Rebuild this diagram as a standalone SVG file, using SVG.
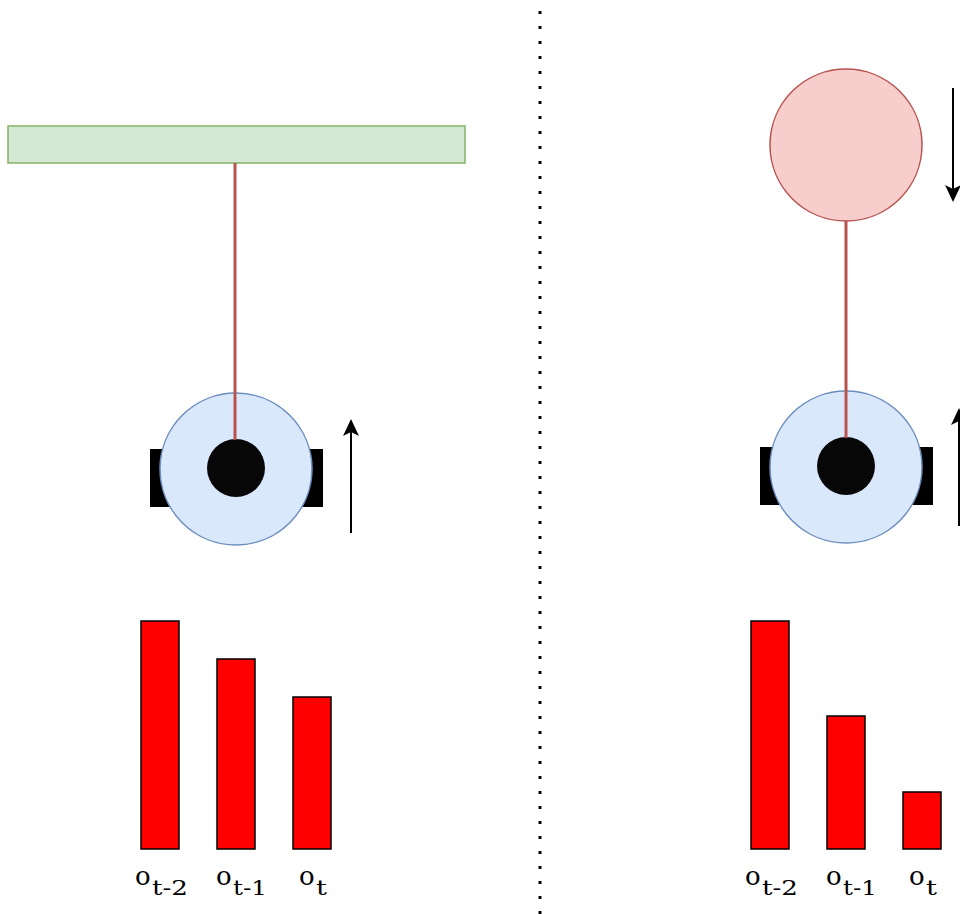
<svg xmlns="http://www.w3.org/2000/svg" width="960" height="914" viewBox="0 0 960 914">
  <style>
    .rod { stroke: #b85450; stroke-width: 3; fill: none; }
    .body { fill: #dae8fc; stroke: #6c8ebf; stroke-width: 1.5; }
    .wheel { fill: #000; }
    .hub { fill: #070707; }
    .bar { fill: #ff0000; stroke: #000; stroke-width: 1.5; }
    .motion { stroke: #000; stroke-width: 2; fill: none; marker-end: url(#arrow); }
    .lbl { fill: #000; }
  </style>
  <defs>
    <marker id="arrow" markerWidth="18" markerHeight="18" refX="15" refY="8" orient="auto" markerUnits="userSpaceOnUse" viewBox="0 0 18 16">
      <path d="M0,0 L17,8 L0,16 L4,8 Z" fill="#000"/>
    </marker>
  </defs>
  <rect width="960" height="914" fill="#fff"/>

  <!-- divider -->
  <line x1="540" y1="11" x2="540" y2="914" stroke="#000" stroke-width="3" stroke-dasharray="3 12"/>

  <!-- left panel: ceiling with hanging rod -->
  <g id="ceiling">
    <rect x="8" y="126" width="457" height="37" fill="#d5e8d4" stroke="#82b366" stroke-width="1.5"/>
  </g>
  <g id="robot-left">
    <rect class="wheel" x="150" y="449" width="30" height="58"/>
    <rect class="wheel" x="292" y="449" width="31" height="58"/>
    <circle class="body" cx="236" cy="469" r="76"/>
    <circle class="hub" cx="236" cy="468" r="29"/>
  </g>

  <!-- right panel: falling ball -->
  <g id="ball">
    <circle cx="846" cy="145" r="76" fill="#f8cecc" stroke="#b85450" stroke-width="1.5"/>
  </g>
  <g id="robot-right">
    <rect class="wheel" x="760" y="447" width="30" height="58"/>
    <rect class="wheel" x="902" y="447" width="31" height="58"/>
    <circle class="body" cx="846" cy="467" r="76"/>
    <circle class="hub" cx="846" cy="466" r="29"/>
  </g>

  <g id="connectors">
    <line class="rod" x1="235" y1="163" x2="235" y2="440"/>
    <line class="rod" x1="846" y1="221" x2="846" y2="438"/>
    <line class="motion" x1="351" y1="533" x2="351" y2="421"/>
    <line class="motion" x1="953" y1="88" x2="953" y2="200"/>
    <line class="motion" x1="959" y1="526" x2="959" y2="410"/>
  </g>

  <!-- observation bars, left -->
  <g id="bars-left" font-family="'DejaVu Serif', 'Liberation Serif', serif">
    <rect class="bar" x="141" y="621" width="38" height="228"/>
    <rect class="bar" x="217" y="659" width="38" height="190"/>
    <rect class="bar" x="293" y="697" width="38" height="152"/>
    <text class="lbl" font-size="26"><tspan x="135" y="885">o</tspan><tspan x="152" y="895" font-size="20" textLength="36" lengthAdjust="spacingAndGlyphs">t-2</tspan></text>
    <text class="lbl" font-size="26"><tspan x="216" y="885">o</tspan><tspan x="233" y="895" font-size="20" textLength="34" lengthAdjust="spacingAndGlyphs">t-1</tspan></text>
    <text class="lbl" font-size="26"><tspan x="299" y="885">o</tspan><tspan x="316" y="895" font-size="20" textLength="11" lengthAdjust="spacingAndGlyphs">t</tspan></text>
  </g>

  <!-- observation bars, right -->
  <g id="bars-right" font-family="'DejaVu Serif', 'Liberation Serif', serif">
    <rect class="bar" x="751" y="621" width="38" height="228"/>
    <rect class="bar" x="827" y="716" width="38" height="133"/>
    <rect class="bar" x="903" y="792" width="38" height="57"/>
    <text class="lbl" font-size="26"><tspan x="745" y="885">o</tspan><tspan x="762" y="895" font-size="20" textLength="36" lengthAdjust="spacingAndGlyphs">t-2</tspan></text>
    <text class="lbl" font-size="26"><tspan x="826" y="885">o</tspan><tspan x="843" y="895" font-size="20" textLength="34" lengthAdjust="spacingAndGlyphs">t-1</tspan></text>
    <text class="lbl" font-size="26"><tspan x="909" y="885">o</tspan><tspan x="926" y="895" font-size="20" textLength="11" lengthAdjust="spacingAndGlyphs">t</tspan></text>
  </g>
</svg>
